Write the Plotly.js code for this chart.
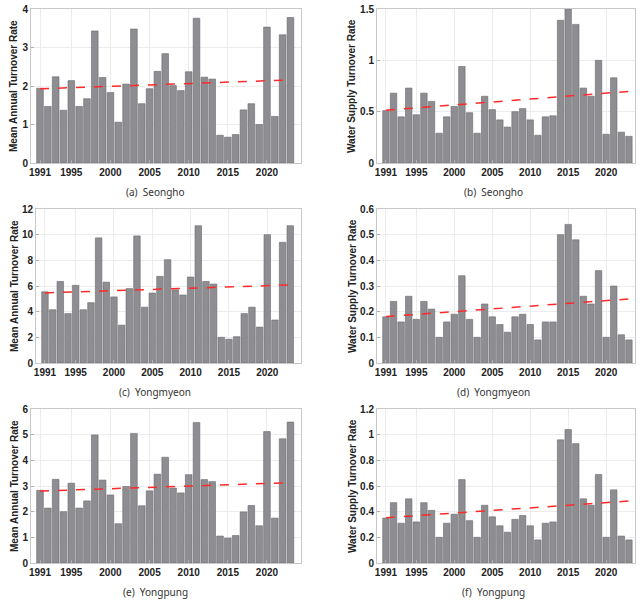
<!DOCTYPE html>
<html>
<head>
<meta charset="utf-8">
<script src="https://cdn.plot.ly/plotly-3.0.1.min.js"></script>
<style>html,body{margin:0;padding:0;background:#fff;}#chart{width:643px;height:600px;}</style>
</head>
<body>
<div id="chart"></div>
<script>
// ---------- data ----------
const years = [1991,1992,1993,1994,1995,1996,1997,1998,1999,2000,2001,2002,2003,2004,2005,2006,2007,2008,2009,2010,2011,2012,2013,2014,2015,2016,2017,2018,2019,2020,2021,2022,2023];
const xTickVals = [1991,1995,2000,2005,2010,2015,2020];
const xTickText = ["1991","1995","2000","2005","2010","2015","2020"];

const seonghoMean = [1.94,1.47,2.24,1.37,2.14,1.47,1.67,3.43,2.22,1.83,1.06,2.05,3.48,1.54,1.93,2.38,2.84,2.01,1.88,2.37,3.76,2.23,2.18,0.72,0.67,0.74,1.38,1.54,1.00,3.53,1.21,3.33,3.78];
const seonghoSupply = [0.51,0.68,0.45,0.73,0.47,0.68,0.60,0.29,0.45,0.55,0.94,0.49,0.29,0.65,0.52,0.42,0.35,0.50,0.53,0.42,0.27,0.45,0.46,1.39,1.50,1.35,0.73,0.65,1.00,0.28,0.83,0.30,0.26];
const yongmyeonMean = [5.55,4.15,6.35,3.85,6.05,4.15,4.70,9.75,6.30,5.15,2.95,5.80,9.90,4.35,5.45,6.75,8.05,5.70,5.30,6.70,10.70,6.35,6.15,2.00,1.85,2.05,3.85,4.35,2.80,10.00,3.35,9.40,10.70];
const yongmyeonSupply = [0.18,0.24,0.16,0.26,0.17,0.24,0.21,0.10,0.16,0.19,0.34,0.17,0.10,0.23,0.18,0.15,0.12,0.18,0.19,0.15,0.09,0.16,0.16,0.50,0.54,0.48,0.26,0.23,0.36,0.10,0.30,0.11,0.09];
const yongpungMean = [2.83,2.14,3.26,2.00,3.11,2.14,2.42,4.99,3.23,2.65,1.53,2.98,5.05,2.23,2.81,3.46,4.12,2.92,2.73,3.44,5.47,3.25,3.17,1.05,0.97,1.07,1.99,2.24,1.45,5.12,1.75,4.84,5.49];
const yongpungSupply = [0.35,0.47,0.31,0.50,0.32,0.47,0.41,0.20,0.31,0.38,0.65,0.33,0.20,0.45,0.36,0.29,0.24,0.34,0.37,0.29,0.18,0.31,0.32,0.96,1.04,0.93,0.50,0.45,0.69,0.20,0.57,0.21,0.18];

const captions = ["(a)  Seongho","(b)  Seongho","(c)  Yongmyeon","(d)  Yongmyeon","(e)  Yongpung","(f)  Yongpung"];
const yTitles = ["Mean Annual Turnover Rate","Water Supply Turnover Rate","Mean Annual Turnover Rate","Water Supply Turnover Rate","Mean Annual Turnover Rate","Water Supply Turnover Rate"];
const yTickVals = [[0,1,2,3,4],[0,0.5,1,1.5],[0,2,4,6,8,10,12],[0,0.1,0.2,0.3,0.4,0.5,0.6],[0,1,2,3,4,5,6],[0,0.2,0.4,0.6,0.8,1,1.2]];
const yTickText = [["0","1","2","3","4"],["0","0.5","1","1.5"],["0","2","4","6","8","10","12"],["0","0.1","0.2","0.3","0.4","0.5","0.6"],["0","1","2","3","4","5","6"],["0","0.2","0.4","0.6","0.8","1","1.2"]];
const yMax = [4,1.5,12,0.6,6,1.2];

const series = [seonghoMean, seonghoSupply, yongmyeonMean, yongmyeonSupply, yongpungMean, yongpungSupply];

// ---------- layout geometry (pixels) ----------
const W = 643, H = 600;
const boxes = [
  {l:31,r:301,t:9,b:163},
  {l:377,r:635,t:9,b:163},
  {l:36,r:301,t:209,b:363},
  {l:377,r:635,t:209,b:363},
  {l:31,r:301,t:409,b:563},
  {l:377,r:635,t:409,b:563}
];
const capPos = [[155,192],[493,192],[155,392],[493,392],[155,592],[493,592]];
const yTitleX = [14,352,14,352,14,352];
const xRanges = [[1989.85,2024.35],[1989.82,2023.8],[1989.83,2024.4],[1989.82,2023.8],[1989.85,2024.35],[1989.82,2023.8]];

function linfit(x, y){
  const n = x.length;
  let sx=0, sy=0, sxx=0, sxy=0;
  for(let i=0;i<n;i++){sx+=x[i];sy+=y[i];sxx+=x[i]*x[i];sxy+=x[i]*y[i];}
  const m = (n*sxy - sx*sy)/(n*sxx - sx*sx);
  const c = (sy - m*sx)/n;
  return [m,c];
}

const tickFont = {family:'"Liberation Sans", Arial, sans-serif', size:10, color:'#222', weight:'bold'};
const data = [];
const layout = {
  width:W, height:H,
  margin:{l:0,r:0,t:0,b:0},
  paper_bgcolor:'#ffffff', plot_bgcolor:'#ffffff',
  showlegend:false,
  bargap:0.15,
  annotations:[]
};

series.forEach((vals, i) => {
  const k = i+1;
  const xa = 'x'+(k===1?'':k), ya = 'y'+(k===1?'':k);
  const xaName = 'xaxis'+(k===1?'':k), yaName = 'yaxis'+(k===1?'':k);
  data.push({
    type:'bar', x:years, y:vals, xaxis:xa, yaxis:ya,
    marker:{color:'#8e8e92', line:{color:'#6a6a6e', width:0.6}},
    hoverinfo:'x+y'
  });
  const [m,c] = linfit(years, vals);
  const tx = [years[0], years[years.length-1]];
  data.push({
    type:'scatter', mode:'lines', x:tx, y:tx.map(v=>m*v+c), xaxis:xa, yaxis:ya,
    line:{color:'#ff2a2a', width:1.5, dash:'dash'}
  });
  const b = boxes[i];
  layout[xaName] = {
    domain:[b.l/W, b.r/W], anchor:ya, range:xRanges[i],
    tickmode:'array', tickvals:xTickVals, ticktext:xTickText,
    ticks:'inside', ticklen:3, tickcolor:'#b0b0b0',
    showgrid:true, gridcolor:'#ececec', gridwidth:1,
    showline:true, linecolor:'#c8c8c8', linewidth:1, mirror:true,
    zeroline:false, tickfont:tickFont, fixedrange:true
  };
  layout[yaName] = {
    domain:[1-b.b/H, 1-b.t/H], anchor:xa, range:[0,yMax[i]],
    tickmode:'array', tickvals:yTickVals[i], ticktext:yTickText[i],
    ticks:'inside', ticklen:3, tickcolor:'#b0b0b0',
    showgrid:true, gridcolor:'#ececec', gridwidth:1,
    showline:true, linecolor:'#c8c8c8', linewidth:1, mirror:true,
    zeroline:false, tickfont:tickFont, fixedrange:true
  };
  layout.annotations.push({
    xref:'paper', yref:'paper', x:yTitleX[i]/W, y:1-((b.t+b.b)/2)/H,
    text:yTitles[i], textangle:-90, showarrow:false,
    xanchor:'center', yanchor:'middle',
    font:{family:'"Liberation Sans", Arial, sans-serif', size:10, color:'#222', weight:'bold'}
  });
  layout.annotations.push({
    xref:'paper', yref:'paper', x:capPos[i][0]/W, y:1-capPos[i][1]/H,
    text:captions[i], showarrow:false, xanchor:'center', yanchor:'middle',
    font:{family:'"Noto Sans", sans-serif', size:10, color:'#333'}
  });
});

Plotly.newPlot('chart', data, layout, {displayModeBar:false, staticPlot:true});
</script>
</body>
</html>
